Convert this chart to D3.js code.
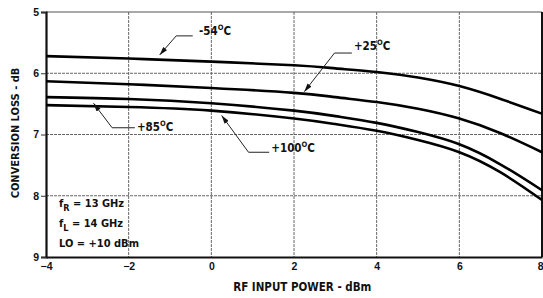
<!DOCTYPE html>
<html><head><meta charset="utf-8">
<script src="https://cdn.jsdelivr.net/npm/d3@7"></script>
<style>
html,body{margin:0;padding:0;background:#fff;}
svg{display:block;}
text{font-family:"DejaVu Sans Condensed","DejaVu Sans","Liberation Sans",Arial,sans-serif;font-stretch:condensed;fill:#111;font-weight:bold;}
</style></head>
<body>
<svg id="chart" width="543" height="298"></svg>
<script>
// ---- data ----
const xTicks = [-4, -2, 0, 2, 4, 6, 8];
const yTicks = [5, 6, 7, 8, 9];
const seriesNames = ["-54", "+25", "+85", "+100"];
const xPower = [-4, -2, 0, 2, 3, 4, 5, 6, 7, 8];
const lossM54  = [5.72, 5.76, 5.81, 5.87, 5.92, 5.98, 6.07, 6.21, 6.42, 6.66];
const lossP25  = [6.13, 6.18, 6.24, 6.32, 6.39, 6.47, 6.58, 6.74, 6.98, 7.29];
const lossP85  = [6.39, 6.42, 6.49, 6.61, 6.70, 6.81, 6.96, 7.16, 7.49, 7.91];
const lossP100 = [6.52, 6.55, 6.61, 6.74, 6.83, 6.94, 7.09, 7.29, 7.62, 8.07];
// annotation anchors (data coords): label text position and arrow target
const labelPos = [
  {name:"-54",  text:[-0.3, 5.37], elbow:[-0.85, 5.39], knee:[-0.45,5.39], tip:[-1.25, 5.70]},
  {name:"+25",  text:[3.45, 5.62], elbow:[2.98, 5.67], knee:[3.4,5.67], tip:[2.25, 6.30]},
  {name:"+85",  text:[-1.8, 6.95], elbow:[-2.4, 6.89], knee:[-1.85,6.89], tip:[-2.85, 6.49]},
  {name:"+100", text:[1.45, 7.29], elbow:[0.9, 7.29], knee:[1.4,7.29], tip:[0.25, 6.69]}
];
const noteLines = [["f","R"," = 13 GHz"],["f","L"," = 14 GHz"],["LO = +10 dBm","",""]];

const svg = d3.select("#chart");
const m = {left:46, right:542, top:12, bottom:257};
const x = d3.scaleLinear().domain([-4, 8]).range([m.left, m.right]);
const y = d3.scaleLinear().domain([5, 9]).range([m.top, m.bottom]);

// grid
const g = svg.append("g");
g.selectAll("line.vg").data(xTicks.filter(d=>d>-4 && d<8)).join("line")
  .attr("x1", d=>x(d)).attr("x2", d=>x(d)).attr("y1", y(5)).attr("y2", y(9))
  .attr("stroke", "#666").attr("stroke-width", 1).attr("stroke-dasharray","3,1");
g.selectAll("line.hg").data(yTicks.filter(d=>d>5 && d<9)).join("line")
  .attr("x1", x(-4)).attr("x2", x(8)).attr("y1", d=>y(d)).attr("y2", d=>y(d))
  .attr("stroke", "#666").attr("stroke-width", 1).attr("stroke-dasharray","3,1");
// top border
g.append("line").attr("x1", x(-4)).attr("x2", x(8)).attr("y1", y(5)).attr("y2", y(5))
  .attr("stroke", "#555").attr("stroke-width", 1.2);
// right border
g.append("line").attr("x1", x(8)).attr("x2", x(8)).attr("y1", y(5)).attr("y2", y(9))
  .attr("stroke", "#111").attr("stroke-width", 2);

// axes
const xAxis = svg.append("g").attr("transform", `translate(0,${y(9)})`)
  .call(d3.axisBottom(x).tickValues(xTicks).tickSize(0).tickPadding(6).tickFormat(d3.format("d")));
xAxis.select(".domain").attr("stroke","#111").attr("stroke-width",2.2);
xAxis.selectAll("text").attr("font-size", 10.5).style("font-family","inherit");
xAxis.selectAll(".tick text").filter(d=>d===8).attr("text-anchor","end").attr("dx", 1);
const yAxis = svg.append("g").attr("transform", `translate(${x(-4)},0)`)
  .call(d3.axisLeft(y).tickValues(yTicks).tickSize(5).tickPadding(2).tickFormat(d3.format("d")));
yAxis.select(".domain").attr("stroke","#111").attr("stroke-width",2.2);
yAxis.selectAll(".tick line").attr("stroke","#333");
yAxis.selectAll("text").attr("font-size", 10.5).style("font-family","inherit");
svg.selectAll(".tick text").attr("fill","#111");

// curves
const allSeries = [lossM54, lossP25, lossP85, lossP100];
const line = d3.line().x(d=>x(d[0])).y(d=>y(d[1])).curve(d3.curveNatural);
svg.append("g").selectAll("path").data(allSeries).join("path")
  .attr("d", s => line(xPower.map((p,i)=>[p, s[i]])))
  .attr("fill","none").attr("stroke","#000").attr("stroke-width",2.6);

// arrow marker
svg.append("defs").append("marker").attr("id","arr")
  .attr("viewBox","0 0 10 6").attr("refX",10).attr("refY",3)
  .attr("markerWidth",10).attr("markerHeight",5).attr("markerUnits","userSpaceOnUse")
  .attr("orient","auto")
  .append("path").attr("d","M0,0 L10,3 L0,6 Z").attr("fill","#111");

// annotations
const ann = svg.append("g");
labelPos.forEach(L => {
  ann.append("path")
    .attr("d", `M${x(L.knee[0])},${y(L.knee[1])} L${x(L.elbow[0])},${y(L.elbow[1])} L${x(L.tip[0])},${y(L.tip[1])}`)
    .attr("fill","none").attr("stroke","#222").attr("stroke-width",1)
    .attr("marker-end","url(#arr)");
  const t = ann.append("text").attr("x", x(L.text[0])).attr("y", y(L.text[1]))
    .attr("font-size", 11.5);
  t.append("tspan").text(L.name);
  t.append("tspan").attr("font-size",7.5).attr("dy",-5).text("O");
  t.append("tspan").attr("dy",5).text("C");
});

// conditions note
const notes = svg.append("g");
noteLines.forEach((nl, i) => {
  const t = notes.append("text").attr("x", 59).attr("y", 207 + i*20).attr("font-size", 11);
  t.append("tspan").text(nl[0]);
  if (nl[1]) {
    t.append("tspan").attr("dy", 4).attr("font-size", 9).text(nl[1]);
    t.append("tspan").attr("dy", -4).text(nl[2]);
  }
});

// axis titles
svg.append("text").attr("x", x(2.2)).attr("y", 291).attr("text-anchor","middle")
  .attr("font-size", 11.5).text("RF INPUT POWER - dBm");
svg.append("text").attr("transform", `translate(19,${133}) rotate(-90)`)
  .attr("text-anchor","middle").attr("font-size", 11).text("CONVERSION LOSS - dB");
</script>
</body></html>
